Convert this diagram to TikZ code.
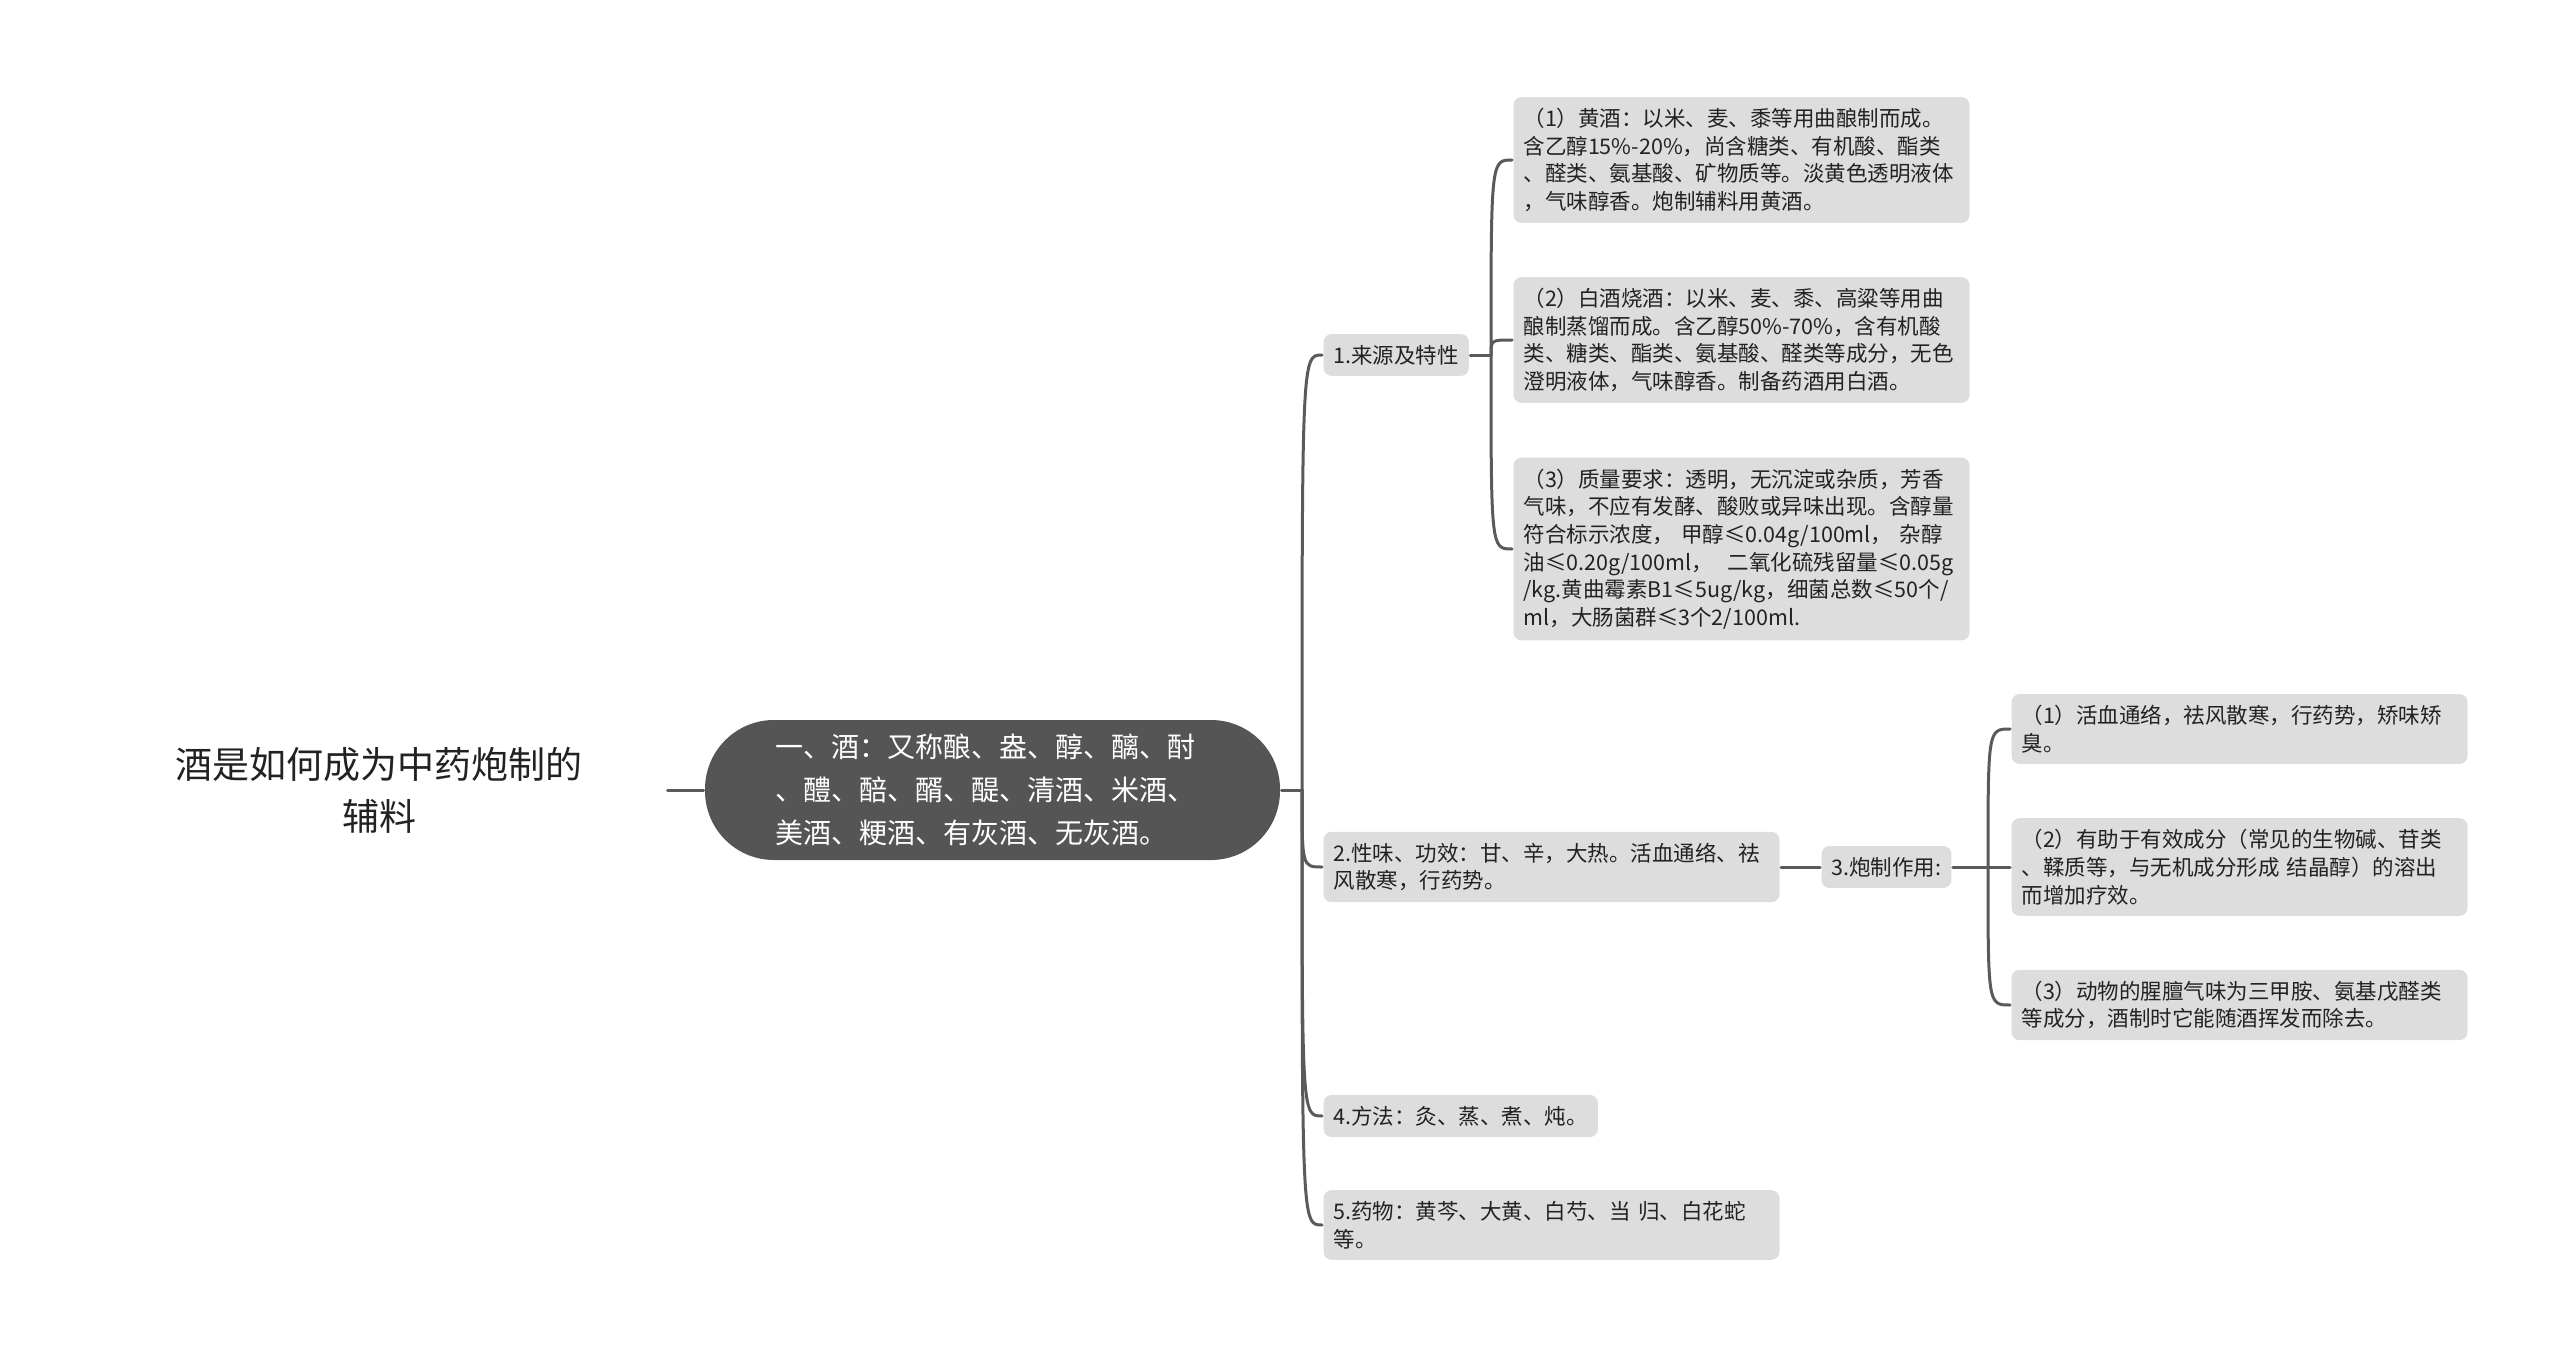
\documentclass[tikz,border=0pt]{standalone}
\usepackage{fontspec}
\setmainfont{Noto Sans CJK SC}
\usetikzlibrary{positioning, calc}

\definecolor{boxgray}{HTML}{DDDDDD}
\definecolor{maingray}{HTML}{555555}
\definecolor{linegray}{HTML}{5A5A5A}
\definecolor{textgray}{HTML}{222222}

\begin{document}
\begin{tikzpicture}[%
        x = 1pt,
        y = -1pt,
        line width = 3pt,
        line cap = round,
        topic/.style = {%
            fill = boxgray,
            rounded corners = 8pt,
            inner xsep = 10pt,
            inner ysep = 11pt,
            anchor = west,
            align = left,
            text = textgray,
            font = \fontsize{21.5}{27.7}\selectfont
        },
        wrapped/.style = {topic, text width = 436pt},
        link/.style = {draw = linegray, line width = 3pt}
    ]

        % Fix the page to the size of the reference.
        \useasboundingbox (0, 0) rectangle (2560, 1359);

        % Coordinates for the branching points.
        \coordinate (hubA) at (1302, 790);
        \coordinate (hubB) at (1491, 355);
        \coordinate (hubC) at (1988, 867);

        % Title and the central topic.
        \node (root) at (379, 790) [%
            minimum width = 574pt,
            align = center,
            text = textgray,
            font = \fontsize{37}{52}\selectfont
        ] {酒是如何成为中药炮制的\\辅料};

        \node (main) at (992.5, 790) [%
            fill = maingray,
            rounded corners = 69pt,
            minimum height = 140pt,
            text width = 435pt,
            inner xsep = 70pt,
            align = left,
            text = white,
            font = \fontsize{28}{43}\selectfont
        ] {一、酒：又称酿、盎、醇、醨、酎\\、醴、醅、醑、醍、清酒、米酒、\\美酒、粳酒、有灰酒、无灰酒。};

        % First level.
        \node (src) at (1322, 355) [topic] {1.来源及特性};
        \node (prop) at (1322, 867) [wrapped] {2.性味、功效：甘、辛，大热。活血通络、祛\\风散寒，行药势。};
        \node (meth) at (1322, 1116) [topic] {4.方法：灸、蒸、煮、炖。};
        \node (herb) at (1322, 1225) [wrapped] {5.药物：黄芩、大黄、白芍、当 归、白花蛇\\等。};
        \node (proc) at (1820, 867) [topic] {3.炮制作用:};

        % Kinds of wine.
        \node (yellow) at (1512, 160) [wrapped] {（1）黄酒：以米、麦、黍等用曲酿制而成。\\含乙醇15\%-20\%，尚含糖类、有机酸、酯类\\、醛类、氨基酸、矿物质等。淡黄色透明液体\\，气味醇香。炮制辅料用黄酒。};
        \node (white) at (1512, 340) [wrapped] {（2）白酒烧酒：以米、麦、黍、高粱等用曲\\酿制蒸馏而成。含乙醇50\%-70\%，含有机酸\\类、糖类、酯类、氨基酸、醛类等成分，无色\\澄明液体，气味醇香。制备药酒用白酒。};
        \node (quality) at (1512, 549) [wrapped] {（3）质量要求：透明，无沉淀或杂质，芳香\\气味，不应有发酵、酸败或异味出现。含醇量\\符合标示浓度， 甲醇≤0.04g/100ml， 杂醇\\油≤0.20g/100ml，\ \ 二氧化硫残留量≤0.05g\\/kg.黄曲霉素B1≤5ug/kg，细菌总数≤50个/\\ml，大肠菌群≤3个2/100ml.};

        % Effects of processing.
        \node (eff1) at (2010, 729) [wrapped] {（1）活血通络，祛风散寒，行药势，矫味矫\\臭。};
        \node (eff2) at (2010, 867) [wrapped] {（2）有助于有效成分（常见的生物碱、苷类\\、鞣质等，与无机成分形成 结晶醇）的溶出\\而增加疗效。};
        \node (eff3) at (2010, 1005) [wrapped] {（3）动物的腥膻气味为三甲胺、氨基戊醛类\\等成分，酒制时它能随酒挥发而除去。};

        % Connectors.
        \begin{scope}[link]
            \draw (root.east) -- (main.west);
            \draw (main.east) -- (hubA);
            \foreach \c in {src, prop, meth, herb}
                \draw (hubA) .. controls (hubA |- \c.west) .. (\c.west);

            \draw (src.east) -- (hubB);
            \foreach \c in {yellow, white, quality}
                \draw (hubB) .. controls (hubB |- \c.west) .. (\c.west);

            \draw (prop.east) -- (proc.west);
            \draw (proc.east) -- (hubC);
            \foreach \c in {eff1, eff2, eff3}
                \draw (hubC) .. controls (hubC |- \c.west) .. (\c.west);
        \end{scope}
    \end{tikzpicture}
\end{document}
